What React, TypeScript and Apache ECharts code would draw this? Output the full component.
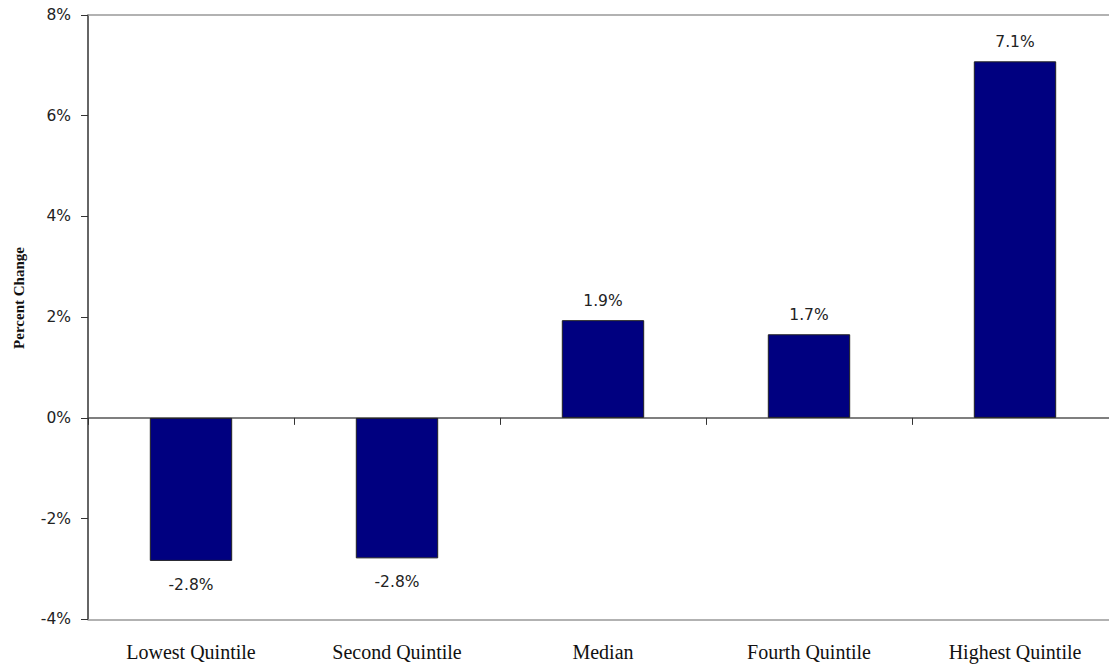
import React, { useEffect, useRef } from "react";
import * as echarts from "echarts";

const categories = ["Lowest Quintile", "Second Quintile", "Median", "Fourth Quintile", "Highest Quintile"];
const values = [-2.84, -2.79, 1.94, 1.66, 7.08];
const yTicks = { min: -4, max: 8, interval: 2 };
const yAxisTitle = "Percent Change";

export default function App() {
  const ref = useRef<HTMLDivElement>(null);
  useEffect(() => {
    if (!ref.current) return;
    const chart = echarts.init(ref.current, null, { renderer: "svg" });
    const sansFont = "DejaVu Sans";
    const serifFont = "Liberation Serif";
    chart.setOption({
      animation: false,
      backgroundColor: "#ffffff",
      grid: { left: 88, right: 2, top: 15, bottom: 44.7, containLabel: false },
      xAxis: [
        {
          type: "category",
          data: categories,
          position: "bottom",
          axisLine: { onZero: false, show: true, lineStyle: { color: "#999999", width: 1.5 } },
          axisTick: { show: false },
          axisLabel: { fontFamily: serifFont, fontSize: 20, color: "#111111", margin: 23 },
          splitLine: { show: false },
        },
        {
          type: "category",
          data: categories,
          position: "top",
          axisLine: { onZero: true, show: true, lineStyle: { color: "#555555", width: 1.5 } },
          axisTick: { show: true, inside: true, length: 7, lineStyle: { color: "#333333" } },
          axisLabel: { show: false },
          splitLine: { show: false },
        },
      ],
      yAxis: {
        type: "value",
        min: yTicks.min,
        max: yTicks.max,
        interval: yTicks.interval,
        axisLine: { show: true, lineStyle: { color: "#333333", width: 1.5 } },
        axisTick: { show: true, length: 7, lineStyle: { color: "#333333" } },
        axisLabel: {
          fontFamily: sansFont,
          fontSize: 15.5,
          color: "#222222",
          margin: 17,
          formatter: (v: number) => `${v}%`,
        },
        splitLine: { show: false },
      },
      series: [
        {
          type: "bar",
          xAxisIndex: 0,
          data: values.map((v) => ({
            value: v,
            label: {
              show: true,
              position: v >= 0 ? "top" : "bottom",
              distance: v >= 0 ? 11 : 16,
              formatter: `${v.toFixed(1)}%`,
              fontFamily: sansFont,
              fontSize: 15.5,
              color: "#222222",
            },
          })),
          barWidth: "40%",
          itemStyle: { color: "#000080", borderColor: "#222222", borderWidth: 1 },
          markLine: {
            silent: true,
            symbol: "none",
            label: { show: false },
            lineStyle: { color: "#999999", width: 1.5, type: "solid" },
            data: [{ yAxis: yTicks.max }],
          },
        },
      ],
      graphic: [
        {
          type: "text",
          x: 19,
          y: 298,
          rotation: Math.PI / 2,
          style: {
            text: yAxisTitle,
            fontFamily: serifFont,
            fontWeight: "bold",
            fontSize: 15,
            fill: "#111111",
            textAlign: "center",
            textVerticalAlign: "middle",
          },
        },
      ],
    });
    return () => chart.dispose();
  }, []);
  return (
    <div
      style={{ position: "absolute", left: 0, top: 0, width: 1109, height: 664, overflow: "hidden", background: "#ffffff" }}
    >
      <div ref={ref} style={{ width: 1120, height: 664 }} />
    </div>
  );
}
